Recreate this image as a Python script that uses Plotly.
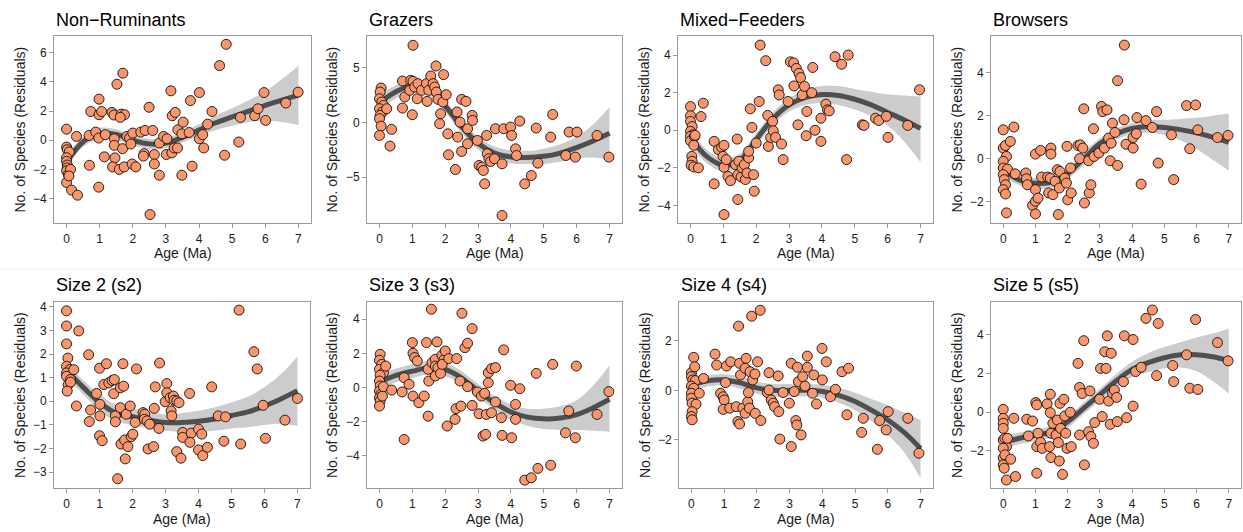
import plotly.graph_objects as go

# ---------------- data ----------------
AGE_GRID = [0, 0.5, 1, 1.5, 2, 2.5, 3, 3.5, 4, 4.5, 5, 5.5, 6, 6.5, 7]
X_TICKS = [0, 1, 2, 3, 4, 5, 6, 7]

titles = ["Non−Ruminants", "Grazers", "Mixed−Feeders", "Browsers",
          "Size 2 (s2)", "Size 3 (s3)", "Size 4 (s4)", "Size 5 (s5)"]

# Non-Ruminants
nonrum_age = [0, 0, 0.02, 0.08, 0, 0, 0.02, 0.02, 0, 0.05, 0, 0.12, 0.07, 0.15, 0.33, 0.3, 0.69, 0.68, 0.73, 0.98,
              0.98, 1.06, 0.88, 0.97, 0.97, 1.17, 1.14, 1.37, 1.43, 1.52, 1.7, 1.65, 1.75, 1.62, 1.44, 1.44, 1.46,
              1.39, 1.59, 1.74, 1.69, 1.82, 1.9, 1.94, 2.0, 1.98, 2.09, 2.24, 2.37, 2.34, 2.32, 2.49, 2.52, 2.6,
              2.65, 2.65, 2.8, 2.8, 2.93, 3.03, 3.01, 3.15, 3.19, 3.28, 3.18, 3.25, 3.35, 3.36, 3.52, 3.48, 3.48,
              3.7, 3.74, 3.79, 4.01, 4.01, 4.11, 4.14, 4.26, 4.39, 4.62, 4.82, 4.77, 5.2, 5.25, 5.68, 5.78, 5.96,
              6.01, 6.62, 6.99]
nonrum_res = [0.76, -0.47, -0.65, -0.8, -1.2, -1.45, -1.7, -1.9, -2.1, -2.35, -2.9, -2.0, -2.45, -3.42, -3.77, 0.26,
              -1.72, 0.33, 1.97, 2.82, 1.75, 1.97, 0.56, 0.15, -3.22, 0.38, -1.14, 1.91, 1.73, 3.84, 4.6, 1.79, 1.75,
              1.57, 0.1, -0.35, -1.21, -1.83, -2.0, -1.83, -0.58, 0.26, 0.15, -0.26, 0.49, -1.63, -1.83, 0.56, 0.67,
              -0.92, -1.09, 2.26, -5.1, 0.67, -0.98, -1.63, -2.4, -0.19, 0.26, 0.1, -0.98, 3.39, 1.68, 1.91, -0.87,
              -0.53, -0.53, 0.72, 1.24, 0.44, -2.4, 0.53, 2.72, -1.78, 3.27, 0.1, 0.38, -0.53, 1.1, 1.97, 5.12, 6.58,
              -1.03, -0.12, 1.57, 1.68, 2.16, 3.27, 1.36, 2.55, 3.3]
nonrum_fit = [-1.5, -0.1, 0.45, 0.4, 0.0, -0.25, -0.2, 0.2, 0.7, 1.2, 1.6, 2.0, 2.4, 2.75, 3.1]
nonrum_hi = [-1.05, 0.25, 0.85, 0.75, 0.35, 0.1, 0.15, 0.55, 1.1, 1.7, 2.2, 2.75, 3.35, 4.2, 5.1]
nonrum_lo = [-1.95, -0.45, 0.1, 0.05, -0.35, -0.6, -0.55, -0.15, 0.3, 0.7, 1.0, 1.25, 1.35, 1.25, 1.05]

# Grazers
grazer_age = [0.05, 0.02, 0, 0.07, 0.12, 0, 0.09, 0.02, 0, 0.05, 0, 0.22, 0.37, 0.32, 0.7, 0.7, 0.77, 1.02, 0.95,
              1.02, 1.0, 0.92, 1.07, 1.17, 1.15, 1.28, 1.43, 1.45, 1.5, 1.56, 1.63, 1.72, 1.68, 1.73, 1.78, 1.86,
              1.83, 1.95, 1.93, 2.03, 2.08, 2.1, 2.31, 2.36, 2.38, 2.45, 2.5, 2.63, 2.5, 2.68, 2.68, 2.82, 2.83,
              2.98, 3.03, 3.11, 3.16, 3.2, 3.26, 3.28, 3.33, 3.38, 3.5, 3.53, 3.78, 3.73, 3.73, 3.99, 4.02, 4.14,
              4.17, 4.27, 4.42, 4.62, 4.77, 4.82, 5.21, 5.27, 5.67, 5.77, 5.96, 6.01, 6.62, 6.98]
grazer_res = [3.14, 2.77, 2.16, 1.86, 1.55, 1.25, 0.95, 0.64, 0.34, -0.34, -1.19, 1.25, -0.64, -2.16, 3.78, 1.31,
              2.32, 7.04, 3.84, 3.75, 0.7, 2.93, 3.23, 3.54, 2.16, 2.93, 3.54, 1.92, 2.93, 4.24, 3.54, 5.15, 3.23,
              2.77, 2.1, 0.79, -0.12, 4.36, 1.86, 2.53, -1.04, -2.96, -4.3, 0.95, -1.34, 0.03, 2.1, 1.92, -2.65,
              -0.58, -1.95, 0.64, 0.18, -1.65, -3.93, -4.09, -4.39, -5.61, -1.19, -2.87, -3.32, -3.57, -3.32, -0.58,
              -0.58, -3.78, -8.5, -0.43, -1.19, -2.41, -3.02, 0.12, -5.61, -4.85, -0.52, -3.72, -1.34, 0.73, -3.02,
              -0.88, -3.17, -0.88, -1.19, -3.17]
grazer_fit = [1.8, 2.8, 3.35, 3.0, 1.5, -0.4, -1.9, -2.8, -3.15, -3.2, -3.1, -2.8, -2.3, -1.7, -1.0]
grazer_hi = [2.6, 3.4, 3.95, 3.55, 2.05, 0.2, -1.3, -2.2, -2.55, -2.6, -2.4, -2.0, -1.3, -0.2, 1.4]
grazer_lo = [1.0, 2.2, 2.75, 2.45, 0.95, -1.0, -2.5, -3.4, -3.75, -3.8, -3.8, -3.6, -3.3, -3.2, -3.4]

# Mixed-Feeders
mixed_age = [0, 0, 0, 0.05, 0, 0.07, 0, 0, 0.12, 0.14, 0.1, 0.04, 0.05, 0.02, 0.1, 0.24, 0.32, 0.39, 0.72, 0.72,
             0.85, 0.95, 1.02, 0.99, 1.02, 1.09, 1.02, 1.14, 1.22, 1.42, 1.44, 1.37, 1.47, 1.44, 1.54, 1.57, 1.64,
             1.67, 1.72, 1.77, 1.77, 1.82, 1.87, 1.92, 1.94, 2.0, 2.09, 2.12, 2.29, 2.35, 2.37, 2.44, 2.5, 2.52,
             2.59, 2.67, 2.7, 2.77, 2.82, 2.97, 3.04, 3.14, 3.15, 3.22, 3.27, 3.3, 3.35, 3.4, 3.47, 3.52, 3.54,
             3.72, 3.69, 3.79, 3.97, 3.97, 4.12, 4.17, 4.22, 4.4, 4.6, 4.8, 4.75, 5.23, 5.28, 5.63, 5.73, 5.96,
             6.01, 6.61, 6.97]
mixed_res = [1.26, 0.77, 0.47, 0.2, -0.06, -0.24, -0.33, -0.56, -0.33, -0.27, -0.8, -1.39, -1.65, -1.86, -1.95,
             -2.0, 0.73, 1.44, -0.59, -2.85, -1.03, -0.91, -0.8, -1.39, -1.97, -1.56, -4.48, -2.45, -2.68, -0.47,
             -3.68, -1.83, -1.65, -2.36, -2.48, -2.0, -1.83, -2.62, -2.27, -1.47, -1.12, 1.14, 0.15, -2.36, -3.24,
             -0.68, 1.53, 4.53, 3.7, 0.79, -0.86, -0.38, 0.47, -0.03, -0.38, 2.15, 1.88, -0.73, -1.56, 1.53, 3.64,
             3.58, 2.36, 3.29, 0.29, 3.03, 2.8, 1.88, 2.33, -0.29, 1.0, 3.34, 2.0, 0.0, 0.64, -0.59, 1.39, 1.09,
             1.03, 3.91, 3.51, 4.0, -1.56, 0.29, 0.26, 0.64, 0.52, 0.74, -0.38, 0.26, 2.15]
mixed_fit = [-0.4, -1.4, -1.85, -1.6, -0.5, 0.6, 1.35, 1.75, 1.9, 1.85, 1.65, 1.35, 0.95, 0.55, 0.1]
mixed_hi = [0.05, -1.05, -1.5, -1.25, -0.15, 0.95, 1.7, 2.15, 2.35, 2.35, 2.2, 2.05, 1.9, 1.85, 1.8]
mixed_lo = [-0.85, -1.75, -2.2, -1.95, -0.85, 0.25, 1.0, 1.35, 1.45, 1.35, 1.1, 0.75, 0.25, -0.6, -1.7]

# Browsers
browser_age = [0, 0, 0.07, 0.1, 0, 0, 0.13, 0, 0.03, 0.07, 0, 0.07, 0.1, 0.22, 0.33, 0.37, 0.7, 0.72, 0.75, 1.0,
               1.0, 1.16, 1.19, 0.91, 1.0, 1.08, 1.0, 1.38, 1.48, 1.48, 1.46, 1.41, 1.54, 1.61, 1.68, 1.74, 1.76,
               1.71, 1.91, 1.96, 1.98, 2.0, 2.09, 2.11, 2.32, 2.39, 2.47, 2.37, 2.5, 2.52, 2.65, 2.67, 2.72, 2.8,
               2.82, 2.97, 3.05, 3.09, 3.22, 3.14, 3.27, 3.32, 3.35, 3.39, 3.47, 3.55, 3.55, 3.76, 3.75, 3.81, 4.03,
               4.03, 4.13, 4.15, 4.28, 4.43, 4.63, 4.76, 4.81, 5.22, 5.29, 5.69, 5.79, 5.97, 6.04, 6.65, 6.98]
browser_res = [1.34, 0.49, 0.61, 0.1, -0.13, -0.44, -0.49, -0.75, -0.98, -1.22, -1.45, -1.65, -2.53, 0.8, 1.47,
               -0.71, -0.67, -0.94, -1.22, 0.21, -1.45, 0.38, -0.86, -2.18, -1.99, -1.84, -2.58, -0.86, 0.49, 0.21,
               -0.91, -1.6, -1.68, -1.06, -0.52, -1.37, -0.6, -2.61, -0.91, -1.14, 0.57, -1.92, -0.44, -1.6, 0.61,
               0.64, 0.49, 0.0, 2.32, -2.07, -0.1, -1.6, -1.22, 1.39, 0.1, 0.26, 2.43, 2.19, 2.27, 0.49, 0.95, -0.1,
               0.72, 1.65, 1.22, 3.63, -0.32, 5.29, 1.81, 0.67, 0.98, 0.49, 1.16, 1.91, -1.19, 1.77, 1.45, 2.19,
               -0.21, 1.11, -0.98, 2.47, 0.46, 2.5, 1.34, 0.98, 1.08]
browser_fit = [-0.5, -1.0, -1.15, -1.1, -0.7, 0.0, 0.7, 1.15, 1.4, 1.5, 1.45, 1.35, 1.2, 1.0, 0.75]
browser_hi = [-0.2, -0.75, -0.9, -0.85, -0.45, 0.3, 0.95, 1.4, 1.65, 1.8, 1.8, 1.85, 1.9, 2.0, 2.1]
browser_lo = [-0.8, -1.25, -1.4, -1.35, -0.95, -0.3, 0.45, 0.9, 1.15, 1.2, 1.1, 0.85, 0.45, -0.05, -0.55]

# Size 2
s2_age = [0, 0, 0, 0.04, 0, 0.1, 0, 0, 0.12, 0.05, 0.12, 0.02, 0.22, 0.3, 0.37, 0.67, 0.73, 0.69, 0.91, 1.0, 1.01,
          1.01, 1.0, 1.08, 1.13, 1.21, 1.28, 1.38, 1.43, 1.45, 1.48, 1.48, 1.55, 1.63, 1.65, 1.71, 1.73, 1.76, 1.78,
          1.63, 1.81, 1.86, 1.93, 1.96, 2.01, 2.08, 2.12, 2.32, 2.37, 2.36, 2.44, 2.52, 2.47, 2.64, 2.66, 2.69, 2.8,
          2.82, 2.99, 3.04, 3.04, 3.14, 3.17, 3.19, 3.24, 3.26, 3.34, 3.41, 3.34, 3.47, 3.52, 3.52, 3.73, 3.78, 3.74,
          4.0, 4.0, 4.1, 4.13, 4.27, 4.4, 4.6, 4.82, 4.77, 5.23, 5.28, 5.68, 5.78, 5.96, 6.03, 6.62, 7.0]
s2_res = [3.83, 3.19, 2.43, 1.83, 1.48, 1.34, 1.2, 1.06, 0.92, 0.71, 0.81, 0.43, 1.34, -0.2, 2.98, 1.97, -0.37,
          -0.86, 0.33, 1.4, -0.13, -0.62, -1.46, -1.67, 0.71, 1.59, 0.78, 0.88, 0.32, 0.92, -0.62, -0.87, -3.28,
          0.57, -1.81, 1.59, 0.64, -1.64, -2.44, -0.27, -0.55, -1.92, -0.2, -1.5, -1.39, -0.9, 1.37, -0.48, -0.55,
          -0.76, -0.83, -0.97, -2.02, -1.92, -0.3, 0.61, -1.15, 1.62, -0.02, 0.75, 0.36, 0.15, -0.41, -0.62, 0.22,
          0.04, 0.01, -0.06, -2.13, -2.41, -1.32, -1.53, 0.33, -1.35, -1.74, -1.18, -2.06, -1.39, -2.3, -1.95,
          0.61, -0.62, -0.66, -1.69, 3.86, -1.81, 2.1, 1.37, -0.17, -1.57, -0.8, 0.12]
s2_fit = [1.3, 0.6, -0.05, -0.5, -0.65, -0.8, -0.9, -0.9, -0.85, -0.75, -0.6, -0.45, -0.2, 0.1, 0.45]
s2_hi = [1.6, 0.9, 0.3, -0.15, -0.3, -0.45, -0.55, -0.5, -0.4, -0.25, -0.05, 0.2, 0.6, 1.15, 1.9]
s2_lo = [1.0, 0.3, -0.4, -0.85, -1.0, -1.15, -1.25, -1.3, -1.3, -1.25, -1.15, -1.1, -1.0, -0.95, -1.05]

# Size 3
s3_age = [0.02, 0, 0.07, 0, 0.12, 0.02, 0.19, 0, 0.02, 0, 0.04, 0, 0.02, 0, 0.09, 0.12, 0.37, 0.69, 0.75, 0.75,
          0.9, 1.0, 1.02, 1.07, 1.02, 1.15, 1.2, 1.36, 1.43, 1.48, 1.48, 1.5, 1.58, 1.6, 1.7, 1.75, 1.7, 1.7, 1.78,
          1.86, 1.9, 1.96, 2.0, 1.91, 2.06, 2.11, 2.3, 2.35, 2.33, 2.45, 2.48, 2.51, 2.6, 2.68, 2.68, 2.82, 2.82,
          2.98, 3.03, 3.1, 3.15, 3.2, 3.23, 3.25, 3.31, 3.31, 3.41, 3.41, 3.53, 3.53, 3.71, 3.73, 3.78, 3.99,
          4.02, 4.14, 4.14, 4.27, 4.42, 4.62, 4.82, 4.77, 5.21, 5.27, 5.66, 5.76, 5.96, 5.99, 6.62, 6.98]
s3_res = [1.94, 1.59, 1.35, 1.06, 0.86, 0.71, 1.25, 0.37, 0.08, -0.22, -0.41, -0.61, -0.8, -1.1, -0.51, 0.04,
          -0.16, -0.27, 0.57, -3.06, 0.18, 2.63, 2.0, 1.75, -0.51, 1.55, -0.9, -0.51, 2.63, 1.06, -1.69, 0.37,
          4.59, 1.45, 1.65, 2.67, 1.25, 0.67, 1.16, 0.82, 1.88, 1.61, 2.14, 1.35, -2.27, 1.69, -1.88, 1.69, -1.25,
          0.37, -1.1, 4.35, 2.33, 2.59, 0.04, 3.45, -1.06, -0.27, -1.55, -0.51, -2.86, -0.35, -2.76, -1.59, 0.27,
          0.86, -1.49, 1.1, -0.86, 1.16, -1.78, -2.82, 2.2, 0.12, -2.96, -1.88, -1.0, -0.08, -5.45, -5.31, -4.76,
          0.82, -4.57, 1.35, -2.67, -1.39, -2.96, 1.25, -1.59, -0.25]
s3_fit = [0.3, 0.7, 0.95, 1.15, 1.05, 0.55, -0.2, -0.9, -1.45, -1.75, -1.85, -1.8, -1.6, -1.2, -0.7]
s3_hi = [0.75, 1.1, 1.35, 1.55, 1.45, 0.95, 0.2, -0.5, -1.0, -1.25, -1.25, -1.1, -0.75, 0.1, 1.3]
s3_lo = [-0.15, 0.3, 0.55, 0.75, 0.65, 0.15, -0.6, -1.3, -1.9, -2.25, -2.45, -2.5, -2.5, -2.55, -2.6]

# Size 4
s4_age = [0, 0.07, 0.1, 0, 0.04, 0.12, 0, 0.07, 0, 0, 0.02, 0.14, 0.02, 0, 0.02, 0.24, 0.37, 0.72, 0.77, 0.89,
          0.97, 1.0, 0.97, 1.04, 1.07, 1.2, 1.17, 1.37, 1.42, 1.47, 1.44, 1.47, 1.5, 1.57, 1.64, 1.67, 1.64, 1.72,
          1.74, 1.79, 1.77, 1.84, 1.87, 1.94, 1.95, 2.02, 2.1, 2.12, 2.37, 2.32, 2.37, 2.44, 2.5, 2.54, 2.65, 2.7,
          2.67, 2.8, 2.99, 3.05, 3.05, 3.14, 3.19, 3.22, 3.24, 3.27, 3.35, 3.4, 3.47, 3.54, 3.54, 3.7, 3.74, 3.82,
          3.99, 4.0, 4.12, 4.25, 4.4, 4.6, 4.8, 4.75, 5.2, 5.25, 5.68, 5.75, 5.95, 6.01, 6.61, 6.95]
s4_res = [0.71, 1.33, 0.95, 0.55, 0.42, 0.39, 0.17, 0.08, -0.12, -0.32, -0.52, -0.56, -0.86, -1.06, -1.19, -0.12,
          0.48, 1.46, 1.02, -0.12, -0.26, -0.39, -0.77, 0.31, 0.98, 1.15, -0.72, -0.66, -1.26, -1.36, 2.59, 1.09,
          0.62, -0.72, -0.93, 1.29, 0.89, -0.46, -0.09, 0.75, -0.72, 2.99, 0.42, 0.66, -0.93, 1.15, 3.23, -1.22,
          0.71, -0.09, 0.01, -0.39, -0.52, -0.66, 0.58, -1.97, -0.86, -0.09, -0.52, 1.09, -2.27, -0.05, -1.22,
          -1.4, 0.93, 0.35, -1.8, 0.55, 0.17, 0.93, 1.38, -0.12, 0.62, -0.55, 1.69, 0.42, 1.15, -0.26, 0.04, 0.75,
          0.89, -0.99, -1.7, -1.13, -2.38, -1.22, -1.6, -0.86, -1.13, -2.54]
s4_fit = [0.2, 0.38, 0.42, 0.3, 0.1, 0.0, 0.0, 0.0, -0.05, -0.2, -0.45, -0.8, -1.2, -1.7, -2.35]
s4_hi = [0.45, 0.6, 0.65, 0.55, 0.35, 0.25, 0.25, 0.25, 0.22, 0.1, -0.1, -0.35, -0.6, -0.9, -1.2]
s4_lo = [-0.05, 0.15, 0.2, 0.05, -0.15, -0.25, -0.25, -0.25, -0.3, -0.5, -0.8, -1.25, -1.8, -2.5, -3.55]

# Size 5
s5_age = [0, 0, 0, 0, 0, 0.05, 0.1, 0, 0, 0.05, 0, 0.03, 0.1, 0.13, 0.23, 0.33, 0.38, 0.73, 0.78, 0.91, 1.01,
          1.04, 1.08, 1.04, 1.04, 1.16, 1.21, 1.36, 1.44, 1.46, 1.46, 1.48, 1.48, 1.54, 1.64, 1.68, 1.71, 1.76,
          1.78, 1.74, 1.84, 1.88, 1.91, 1.94, 1.98, 2.11, 2.08, 2.32, 2.37, 2.37, 2.45, 2.5, 2.52, 2.65, 2.69, 2.72,
          2.8, 2.84, 2.99, 3.02, 3.07, 3.15, 3.19, 3.23, 3.27, 3.32, 3.35, 3.39, 3.45, 3.52, 3.54, 3.73, 3.76, 3.83,
          4.03, 4.03, 4.11, 4.28, 4.43, 4.63, 4.81, 4.76, 5.26, 5.29, 5.69, 5.79, 5.97, 6.04, 6.65, 6.98]
s5_res = [0.14, -0.32, -0.58, -0.84, -1.44, -1.35, -1.78, -1.86, -2.37, -2.2, -2.72, -2.89, -3.5, -1.35, -2.43,
          -0.32, -3.32, -0.37, -1.23, -0.46, 0.49, 0.37, -1.09, -3.15, -1.78, -1.56, -1.87, 0.42, -1.78, 0.92,
          -0.03, -1.09, -2.34, -0.58, -1.18, -0.41, -1.57, 0.45, -0.84, -2.52, -3.21, 0.66, -0.2, -1.09, -1.87,
          -1.78, -0.01, 2.51, 1.27, -1.18, 0.96, 3.68, -2.72, -1.01, 1.09, -1.26, -1.61, -0.54, 0.66, 2.25, -0.23,
          3.11, 2.25, 3.93, 0.57, -0.63, 3.03, 0.97, 1.14, 0.76, -0.49, 1.57, 3.93, -0.29, 3.74, 0.31, 2.09, 2.31,
          4.83, 5.26, 4.57, 1.88, 2.4, 1.57, 2.95, 1.23, 4.77, 1.17, 3.58, 2.64]
s5_fit = [-1.55, -1.35, -1.2, -1.0, -0.5, 0.2, 0.9, 1.6, 2.2, 2.55, 2.8, 2.95, 2.95, 2.85, 2.65]
s5_hi = [-1.2, -1.05, -0.9, -0.7, -0.2, 0.5, 1.2, 1.95, 2.6, 3.05, 3.35, 3.6, 3.85, 4.05, 4.3]
s5_lo = [-1.9, -1.65, -1.5, -1.3, -0.8, -0.1, 0.6, 1.25, 1.8, 2.05, 2.25, 2.3, 2.1, 1.6, 0.95]

y_ticks = [[-4, -2, 0, 2, 4, 6], [-5, 0, 5], [-4, -2, 0, 2, 4], [-2, 0, 2, 4],
           [-3, -2, -1, 0, 1, 2, 3, 4], [-4, -2, 0, 2, 4], [-2, 0, 2], [-2, 0, 2, 4]]

series = [
    (nonrum_age, nonrum_res, nonrum_fit, nonrum_lo, nonrum_hi),
    (grazer_age, grazer_res, grazer_fit, grazer_lo, grazer_hi),
    (mixed_age, mixed_res, mixed_fit, mixed_lo, mixed_hi),
    (browser_age, browser_res, browser_fit, browser_lo, browser_hi),
    (s2_age, s2_res, s2_fit, s2_lo, s2_hi),
    (s3_age, s3_res, s3_fit, s3_lo, s3_hi),
    (s4_age, s4_res, s4_fit, s4_lo, s4_hi),
    (s5_age, s5_res, s5_fit, s5_lo, s5_hi),
]

# ---------------- layout (pixel geometry) ----------------
W, H = 1243, 532
x_px = [(54, 311), (367, 622), (678, 933), (991, 1241),
        (54, 310), (367, 622), (679, 933), (991, 1241)]
row_px = [(34, 222), (301, 488)]
y_ranges = [(-5.69, 7.16), (-9.2, 7.9), (-4.94, 5.02), (-3.01, 5.72),
            (-3.68, 4.21), (-5.92, 5.02), (-3.95, 3.57), (-3.92, 5.68)]
x_range = (-0.38, 7.38)
ytitle_x = [20, 332, 644, 957, 20, 332, 645, 957]
title_y = [18, 284]
xtitle_y = [252, 519]

FONT = "Liberation Sans, Arial, sans-serif"
PT_FILL = "#F9966C"
LINE_COL = "#4f4f4f"
BAND_COL = "#cccccc"
BORDER = "#9a9a9a"

fig = go.Figure()
layout = dict(width=W, height=H, margin=dict(l=0, r=0, t=0, b=0),
              paper_bgcolor="white", plot_bgcolor="white", showlegend=False,
              font=dict(family=FONT, color="#1a1a1a"))
annotations = []

for i, (age, res, fit, lo, hi) in enumerate(series):
    n = i + 1
    xa = "x" if n == 1 else f"x{n}"
    ya = "y" if n == 1 else f"y{n}"
    row = 0 if i < 4 else 1
    x0, x1 = x_px[i]
    t0, t1 = row_px[row]
    common_axis = dict(showline=True, mirror=True, linecolor=BORDER, linewidth=1,
                       ticks="outside", ticklen=4, tickcolor=BORDER, tickwidth=1,
                       showgrid=False, zeroline=False,
                       tickfont=dict(family=FONT, size=12, color="#1a1a1a"))
    layout["xaxis" if n == 1 else f"xaxis{n}"] = dict(
        domain=[x0 / W, x1 / W], range=list(x_range), tickvals=X_TICKS,
        anchor=ya, **common_axis)
    layout["yaxis" if n == 1 else f"yaxis{n}"] = dict(
        domain=[1 - t1 / H, 1 - t0 / H], range=list(y_ranges[i]), tickvals=y_ticks[i],
        anchor=xa, **common_axis)

    fig.add_trace(go.Scatter(x=AGE_GRID, y=lo, xaxis=xa, yaxis=ya, mode="lines",
                             line=dict(width=0, shape="spline", smoothing=1),
                             hoverinfo="skip"))
    fig.add_trace(go.Scatter(x=AGE_GRID, y=hi, xaxis=xa, yaxis=ya, mode="lines",
                             line=dict(width=0, shape="spline", smoothing=1),
                             fill="tonexty", fillcolor=BAND_COL, hoverinfo="skip"))
    fig.add_trace(go.Scatter(x=AGE_GRID, y=fit, xaxis=xa, yaxis=ya, mode="lines",
                             line=dict(width=5, color=LINE_COL, shape="spline", smoothing=1)))
    fig.add_trace(go.Scatter(x=age, y=res, xaxis=xa, yaxis=ya, mode="markers",
                             marker=dict(size=10, color=PT_FILL,
                                         line=dict(color="#111111", width=0.9))))

    annotations.append(dict(text=titles[i], xref="paper", yref="paper",
                            x=x0 / W, y=1 - title_y[row] / H, xanchor="left", yanchor="middle",
                            showarrow=False, font=dict(family=FONT, size=18, color="black")))
    annotations.append(dict(text="No. of Species (Residuals)", xref="paper", yref="paper",
                            x=ytitle_x[i] / W, y=1 - (t0 + t1) / 2 / H, xanchor="center",
                            yanchor="middle", textangle=-90, showarrow=False,
                            font=dict(family=FONT, size=14, color="#1a1a1a")))
    annotations.append(dict(text="Age (Ma)", xref="paper", yref="paper",
                            x=(x0 + x1) / 2 / W, y=1 - xtitle_y[row] / H, xanchor="center",
                            yanchor="middle", showarrow=False,
                            font=dict(family=FONT, size=14, color="#1a1a1a")))

layout["annotations"] = annotations
layout["shapes"] = [dict(type="line", xref="paper", yref="paper", x0=0, x1=1,
                         y0=1 - 268 / H, y1=1 - 268 / H,
                         line=dict(color="#efefef", width=1))]
fig.update_layout(**layout)
fig.write_html("out.html")
